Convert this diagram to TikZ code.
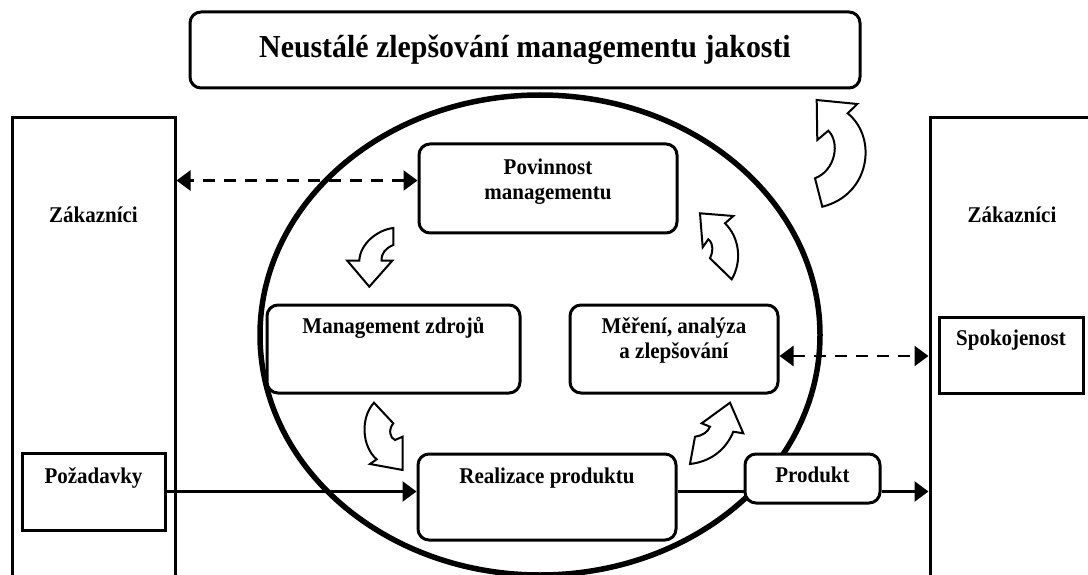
\documentclass[tikz,border=0pt]{standalone}
\usepackage{fontspec}
\setmainfont{Liberation Serif}[FakeStretch=0.933]
\usetikzlibrary{arrows.meta}
\tikzset{
  blok/.style  ={draw,line width=3pt,inner sep=0pt,fill=white},
  oblok/.style ={blok,rounded corners=11pt},
  txt/.style   ={font=\fontsize{22.5}{25}\selectfont\bfseries,align=center,inner sep=0pt},
  popis/.style 2 args={label={[txt,anchor=base,yshift=-#1]north:{#2}}},
  sip/.style   ={line width=2.5pt,-{Triangle[length=14pt,width=20pt]}},
  csip/.style  ={line width=2.5pt,dash pattern=on 12pt off 9pt,
                 {Triangle[length=14pt,width=20pt]}-{Triangle[length=14pt,width=20pt]}},
  oblouk/.style={draw,line width=2pt,fill=white,line join=miter},
}

\begin{document}
\begin{tikzpicture}[x=1pt,y=-1pt]
\useasboundingbox (0,0) rectangle (1088,575);
\clip (0,0) rectangle (1088,575);

% headline
\node[oblok,minimum width=670pt,minimum height=76pt,
      font=\fontsize{32}{36}\selectfont\bfseries] (titul) at (525,50)
  {Neustálé zlepšování managementu jakosti};

% ---- cycle ------------------------------------------------------------
\draw[line width=5.5pt] (540,335) ellipse [x radius=280pt, y radius=240pt];

% ---- customers (left and right) --------------------------------------
\node[blok,minimum width=163pt,minimum height=482pt,popis={106pt}{Zákazníci}]
  (zakL) at (93.5,359) {};
\node[blok,minimum width=143pt,minimum height=77pt,popis={32pt}{Požadavky}]
  (pozad) at (93.5,491.5) {};
\node[blok,minimum width=164pt,minimum height=482pt,popis={106pt}{Zákazníci}]
  (zakR) at (1012,359) {};
\node[blok,minimum width=144pt,minimum height=76pt,popis={30pt}{Spokojenost}]
  (spok) at (1011,355) {};

% ---- processes inside the cycle --------------------------------------
\node[oblok,minimum width=258pt,minimum height=89pt,
      popis={57pt}{Povinnost\\managementu}] (pov) at (548,188.5) {};
\node[oblok,minimum width=253pt,minimum height=88pt,
      popis={30pt}{Management zdrojů}] (mgmt) at (393.5,349) {};
\node[oblok,minimum width=208pt,minimum height=88pt,
      popis={55pt}{Měření, analýza\\a zlepšování}] (mer) at (674,349) {};
\node[oblok,minimum width=258pt,minimum height=86pt,
      popis={31pt}{Realizace produktu}] (real) at (547,497) {};
\node[oblok,minimum width=135pt,minimum height=49pt,
      popis={30pt}{Produkt}] (prod) at (812.5,478.5) {};

% ---- curved block arrows ---------------------------------------------
\draw[oblouk] (816.7,100) -- (857.3,104) -- (847.7,113.3)
  .. controls (878,138) and (870,195) .. (822.3,206.7)
  -- (815,178.3) .. controls (836,170) and (840,142) .. (828.3,130.7)
  -- (817.3,140) -- cycle;
\draw[oblouk] (393.3,228) .. controls (377,230) and (360,244) .. (359.3,260.7)
  -- (347.3,260.7) -- (369.3,286.7) -- (392.3,260.7) -- (381.7,260.7)
  .. controls (381,253) and (386,248) .. (393.3,245) -- cycle;
\draw[oblouk] (700,213.3) -- (733.3,216) -- (725,223.3)
  .. controls (740,238) and (742,262) .. (731.7,279.3)
  -- (710,258.3) .. controls (713,252) and (714,244) .. (708.3,239.3)
  -- (702.7,247.3) -- cycle;
\draw[oblouk] (374,402.7) -- (393.3,423.3)
  .. controls (388,430) and (390,438) .. (395,440)
  -- (402.7,436.7) -- (402.7,470) -- (370,464) -- (376.7,459.3)
  .. controls (362,447) and (360,418) .. (374,402.7) -- cycle;
\draw[oblouk] (730,402.7) -- (743.3,433.3) -- (733.3,431.7)
  .. controls (725,452) and (708,462) .. (690,464)
  -- (695,436.7) .. controls (702,436) and (708,432) .. (710,426.7)
  -- (701.7,423.3) -- cycle;

% ---- edges ------------------------------------------------------------
\draw[csip] ([yshift=8pt]pov.west) -- ([yshift=8pt]pov.west -| zakL.east);
\draw[csip] ([yshift=-7pt]mer.east) -- ([yshift=-7pt]mer.east -| zakR.west);
\draw[sip] (pozad.east) -- (pozad.east -| real.west);
\draw[line width=2.5pt] (pozad.east -| real.east) -- (pozad.east -| prod.west);
\draw[sip] (pozad.east -| prod.east) -- (pozad.east -| zakR.west);
\end{tikzpicture}
\end{document}
